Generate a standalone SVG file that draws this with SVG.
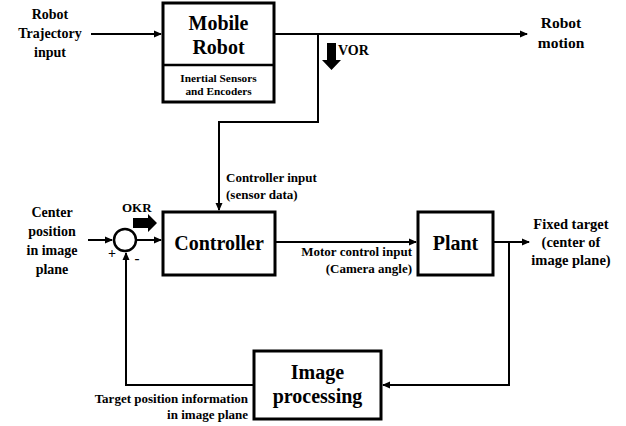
<svg xmlns="http://www.w3.org/2000/svg" width="626" height="426" viewBox="0 0 626 426">
  <defs>
    <marker id="arr" markerWidth="8" markerHeight="8" refX="7" refY="4" orient="auto" markerUnits="userSpaceOnUse">
      <path d="M0,0.5 L8,4 L0,7.5 Z" fill="#000"/>
    </marker>
  </defs>
  <style>
    .t { font-weight: bold; fill: #000; }
    .big { font-size: 20px; text-anchor: middle; }
    .lbl { font-size: 14px; text-anchor: middle; }
    .lbl2 { font-size: 15.5px; text-anchor: middle; }
    .sm { font-size: 13px; }
    .box { fill: #fff; stroke: #000; stroke-width: 3; }
    .wire { fill: none; stroke: #000; stroke-width: 2; }
  </style>
  <rect width="626" height="426" fill="#fff"/>

  <!-- connectors -->
  <g id="connectors">
    <path class="wire" d="M91,34 H161" marker-end="url(#arr)"/>
    <path class="wire" d="M274,34 H527" marker-end="url(#arr)"/>
    <path class="wire" d="M318,34 V122 H219 V210" marker-end="url(#arr)"/>
    <path class="wire" d="M88,240 H112" marker-end="url(#arr)"/>
    <path class="wire" d="M136,240 H161" marker-end="url(#arr)"/>
    <path class="wire" d="M275,242 H416" marker-end="url(#arr)"/>
    <path class="wire" d="M493,242 H529" marker-end="url(#arr)"/>
    <path class="wire" d="M509,242 V385 H383" marker-end="url(#arr)"/>
    <path class="wire" d="M253,385 H126 V253" marker-end="url(#arr)"/>
    <!-- VOR thick arrow -->
    <path d="M327,43 H336 V60 H341 L331.5,70 L322,60 H327 Z" fill="#000"/>
    <!-- OKR thick arrow -->
    <path d="M133,218 H148 V214 L157,223 L148,232 V228 H133 Z" fill="#000"/>
  </g>

  <g font-family="'Liberation Serif', 'DejaVu Serif', serif">
    <!-- external labels -->
    <g id="labels">
      <text class="t lbl" x="50" y="19">Robot</text>
      <text class="t lbl" x="50" y="38">Trajectory</text>
      <text class="t lbl" x="50" y="57">input</text>
      <text class="t lbl2" x="561" y="28">Robot</text>
      <text class="t lbl2" x="561" y="48">motion</text>
      <text class="t" x="338" y="55" font-size="14">VOR</text>
      <text class="t sm" x="226" y="182">Controller input</text>
      <text class="t sm" x="226" y="199">(sensor data)</text>
      <text class="t" x="122" y="212" font-size="13">OKR</text>
      <text class="t lbl" x="52" y="217">Center</text>
      <text class="t lbl" x="52" y="236">position</text>
      <text class="t lbl" x="52" y="255">in image</text>
      <text class="t lbl" x="52" y="274">plane</text>
      <text class="t" x="112" y="258" font-size="14" text-anchor="middle">+</text>
      <text class="t" x="137" y="263" font-size="15" text-anchor="middle">-</text>
      <text class="t sm" x="412" y="256" text-anchor="end">Motor control input</text>
      <text class="t sm" x="412" y="273" text-anchor="end">(Camera angle)</text>
      <text class="t" x="571" y="229" font-size="14.5" text-anchor="middle">Fixed target</text>
      <text class="t" x="571" y="247" font-size="14.5" text-anchor="middle">(center of</text>
      <text class="t" x="571" y="265" font-size="14.5" text-anchor="middle">image plane)</text>
      <text class="t sm" x="248" y="403" text-anchor="end">Target position information</text>
      <text class="t sm" x="248" y="419" text-anchor="end">in image plane</text>
    </g>
  </g>

  <!-- Mobile Robot -->
  <g id="mobile-robot" font-family="'Liberation Serif', 'DejaVu Serif', serif">
    <rect class="box" x="163" y="3" width="111" height="99"/>
    <line x1="163" y1="65" x2="274" y2="65" stroke="#000" stroke-width="2.5"/>
    <text class="t big" x="218.5" y="30">Mobile</text>
    <text class="t big" x="218.5" y="54">Robot</text>
    <text class="t" x="218.5" y="82" text-anchor="middle" font-size="11.3">Inertial Sensors</text>
    <text class="t" x="218.5" y="95" text-anchor="middle" font-size="11.3">and Encoders</text>
  </g>

  <!-- summing junction -->
  <g id="sum">
    <circle cx="125" cy="240" r="11" fill="#fff" stroke="#000" stroke-width="2.5"/>
  </g>

  <!-- Controller -->
  <g id="controller" font-family="'Liberation Serif', 'DejaVu Serif', serif">
    <rect class="box" x="163" y="212" width="112" height="63"/>
    <text class="t big" x="219" y="250">Controller</text>
  </g>

  <!-- Plant -->
  <g id="plant" font-family="'Liberation Serif', 'DejaVu Serif', serif">
    <rect class="box" x="418" y="212" width="75" height="63"/>
    <text class="t big" x="455.5" y="250">Plant</text>
  </g>

  <!-- Image processing -->
  <g id="image-processing" font-family="'Liberation Serif', 'DejaVu Serif', serif">
    <rect class="box" x="254" y="351" width="127" height="68"/>
    <text class="t big" x="317.5" y="379">Image</text>
    <text class="t big" x="317.5" y="403">processing</text>
  </g>
</svg>
